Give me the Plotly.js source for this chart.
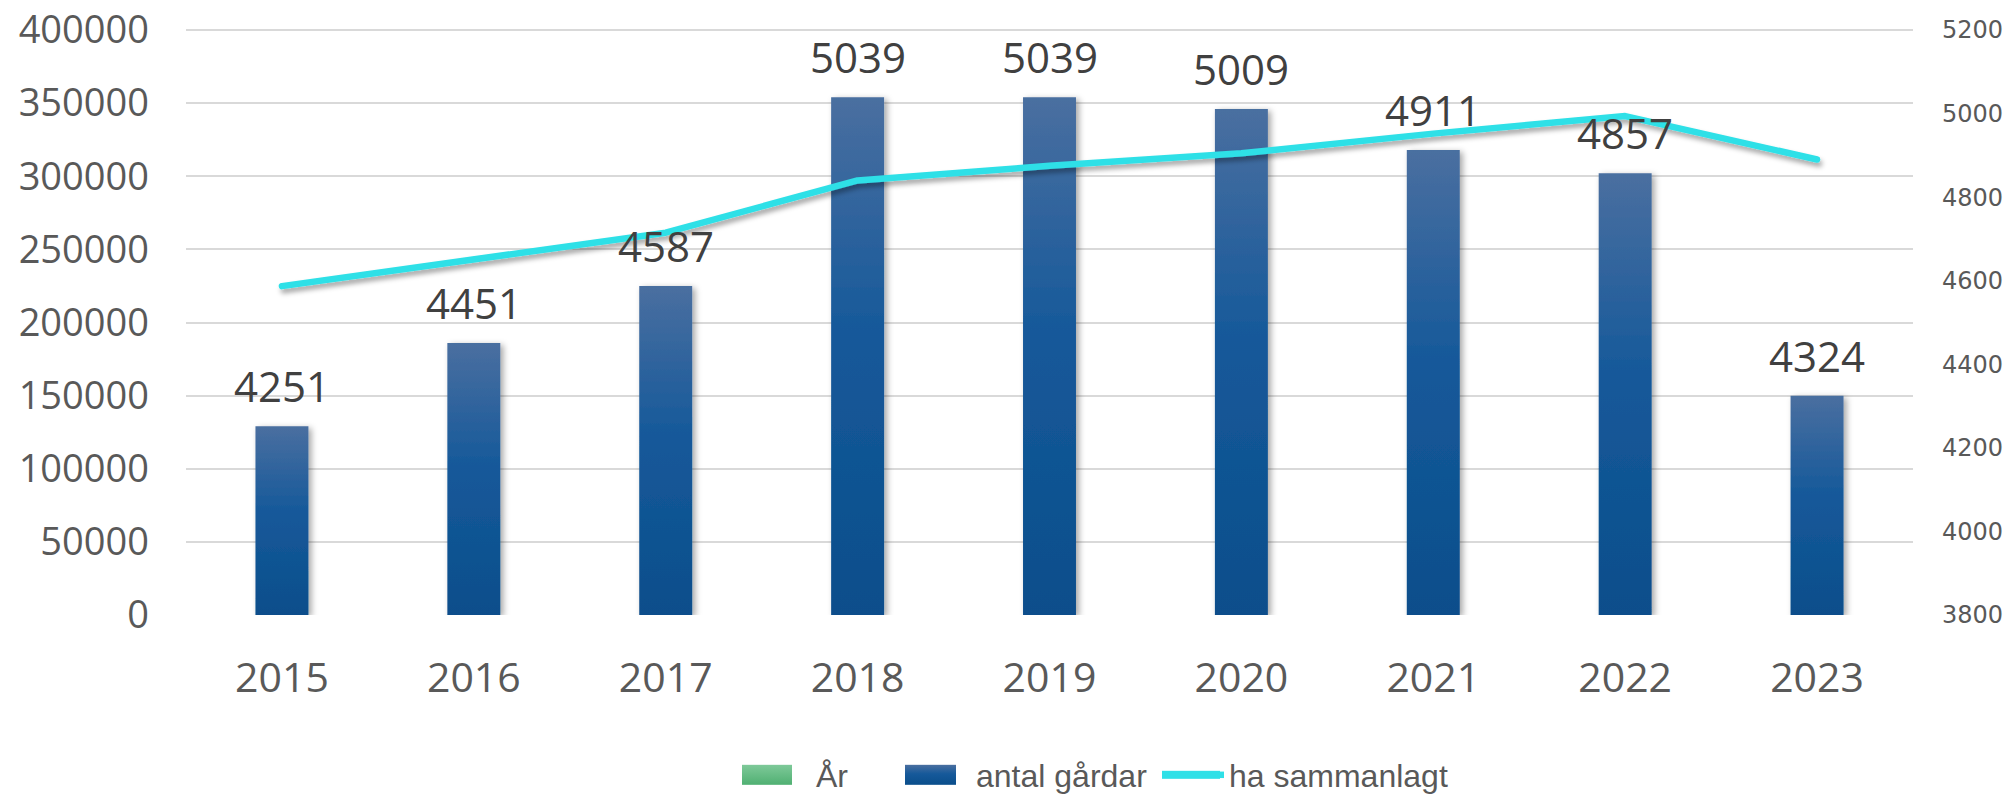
<!DOCTYPE html>
<html>
<head>
<meta charset="utf-8">
<script src="https://cdn.plot.ly/plotly-3.0.1.min.js"></script>
<style>
html,body{margin:0;padding:0;background:#fff;}
#chart{width:2013px;height:797px;}
</style>
</head>
<body>
<div id="chart"></div>
<script>
// ---- data ----
var years = [2015, 2016, 2017, 2018, 2019, 2020, 2021, 2022, 2023];
var yearLabels = ['2015','2016','2017','2018','2019','2020','2021','2022','2023'];
var antalGardar = [129000, 186000, 225000, 354000, 354000, 346000, 318000, 302000, 150000];
var haSammanlagt = [4587, 4650, 4715, 4840, 4875, 4905, 4952, 4994, 4890];
var barLabels = ['4251','4451','4587','5039','5039','5009','4911','4857','4324'];
var seriesNames = ['År', 'antal gårdar', 'ha sammanlagt'];
var leftTicks = [0, 50000, 100000, 150000, 200000, 250000, 300000, 350000, 400000];
var rightTicks = [3800, 4000, 4200, 4400, 4600, 4800, 5000, 5200];

var tickColor = '#595959';

var traceAr = {
  type: 'bar', name: seriesNames[0], x: years, y: years,
  xaxis: 'x', yaxis: 'y2', width: 0.276,
  marker: {color: '#66bd86'}, hoverinfo: 'skip'
};
var traceGardar = {
  type: 'bar', name: seriesNames[1], x: years, y: antalGardar,
  xaxis: 'x', yaxis: 'y', width: 0.276,
  marker: {color: '#16599a'}, hoverinfo: 'skip'
};
var traceHa = {
  type: 'scatter', mode: 'lines', name: seriesNames[2], x: years, y: haSammanlagt,
  xaxis: 'x', yaxis: 'y2',
  line: {color: '#2fe0e7', width: 6.5}, hoverinfo: 'skip'
};

var annotations = years.map(function(yr, i){
  return {
    x: yr, y: antalGardar[i], xref: 'x', yref: 'y',
    text: barLabels[i], showarrow: false, yanchor: 'bottom', xanchor: 'center',
    yshift: 10,
    font: {family: 'Open Sans', size: 42, color: '#404040'}
  };
});

// plot area: top 28, bottom 615 -> 400000 / 5200 sit 2px below the top edge
var plotTop = 28, plotBottom = 615;
var h = plotBottom - plotTop;
var yTop = 400000 * h / (h - 2);
var y2Top = 3800 + 1400 * h / (h - 2);

var layout = {
  width: 2013, height: 797,
  margin: {l: 186, r: 100, t: plotTop, b: 797 - plotBottom, autoexpand: false},
  paper_bgcolor: '#ffffff', plot_bgcolor: '#ffffff',
  showlegend: true,
  barmode: 'overlay',
  xaxis: {
    type: 'linear', range: [2014.5, 2023.5],
    tickvals: years, ticktext: yearLabels,
    showgrid: false, zeroline: false, showline: false,
    ticks: '', ticklabelstandoff: 35,
    tickfont: {family: 'Open Sans', size: 41, color: tickColor}
  },
  yaxis: {
    range: [0, yTop], tickvals: leftTicks, ticktext: leftTicks.map(String),
    showgrid: true, gridcolor: '#d9d9d9', gridwidth: 2,
    zeroline: false, showline: false, ticks: '',
    ticklabelstandoff: 36,
    tickfont: {family: 'Open Sans', size: 38, color: tickColor}
  },
  yaxis2: {
    overlaying: 'y', side: 'right',
    range: [3800, y2Top], tickvals: rightTicks, ticktext: rightTicks.map(String),
    showgrid: false, zeroline: false, showline: false, ticks: '',
    ticklabelstandoff: 28,
    tickfont: {family: 'DejaVu Sans', size: 24, color: tickColor}
  },
  legend: {
    orientation: 'h', x: 0.3, xanchor: 'left', y: -0.2726, yanchor: 'middle',
    font: {family: 'Liberation Sans', size: 32, color: tickColor},
    bgcolor: 'rgba(0,0,0,0)', traceorder: 'normal'
  },
  annotations: annotations
};

function decorate(gd){
  var NS = 'http://www.w3.org/2000/svg';
  var svg = gd.querySelector('svg.main-svg');
  var defs = document.createElementNS(NS, 'defs');
  defs.innerHTML =
    '<linearGradient id="gBlue" x1="0" y1="0" x2="0" y2="1">' +
      '<stop offset="0" stop-color="#4a6fa0"/><stop offset="0.45" stop-color="#16599a"/><stop offset="1" stop-color="#0a4e8b"/>' +
    '</linearGradient>' +
    '<linearGradient id="gGreen" x1="0" y1="0" x2="0" y2="1">' +
      '<stop offset="0" stop-color="#7ec999"/><stop offset="1" stop-color="#50b072"/>' +
    '</linearGradient>' +
    '<filter id="shBar" x="-30%" y="-10%" width="170%" height="130%">' +
      '<feDropShadow dx="3" dy="2" stdDeviation="3" flood-color="#000" flood-opacity="0.35"/>' +
    '</filter>' +
    '<filter id="shLine" x="-10%" y="-50%" width="120%" height="200%">' +
      '<feDropShadow dx="2" dy="4" stdDeviation="2.5" flood-color="#000" flood-opacity="0.35"/>' +
    '</filter>';
  svg.insertBefore(defs, svg.firstChild);

  gd.querySelectorAll('.barlayer g.trace').forEach(function(g){
    var cd = g.__data__; var tr = cd && cd[0] && cd[0].trace;
    if(!tr) return;
    if(tr.name === seriesNames[1]){
      g.querySelectorAll('path').forEach(function(p){
        p.style.fill = 'url(#gBlue)';
        p.setAttribute('filter', 'url(#shBar)');
      });
    }
  });
  gd.querySelectorAll('.scatterlayer path.js-line').forEach(function(p){
    p.style.strokeLinecap = 'round';
    p.style.strokeLinejoin = 'round';
    p.setAttribute('filter', 'url(#shLine)');
  });

  var scroll = gd.querySelector('.legend .scrollbox');
  if(scroll) scroll.removeAttribute('clip-path');
  var desiredText = [816, 976, 1229];
  var swatch = [
    {x0: 742, x1: 792, h: 20, fill: 'url(#gGreen)'},
    {x0: 905, x1: 956, h: 20, fill: 'url(#gBlue)'},
    {x0: 1162, x1: 1220, h: 8, fill: '#2fe0e7'}
  ];
  var items = gd.querySelectorAll('.legend g.traces');
  items.forEach(function(it, i){
    var txt = it.querySelector('text.legendtext');
    if(!txt || i > 2) return;
    var r = txt.getBoundingClientRect();
    var dx = desiredText[i] - r.left;
    var tf = it.getAttribute('transform') || '';
    var m = /translate\(([-\d.e]+)[ ,]*([-\d.e]*)\)/.exec(tf);
    var tx = m ? parseFloat(m[1]) : 0, ty = m && m[2] ? parseFloat(m[2]) : 0;
    it.setAttribute('transform', 'translate(' + (tx + dx) + ',' + ty + ')');
    var lp = it.querySelector('.legendpoints');
    while(lp && lp.firstChild) lp.removeChild(lp.firstChild);
    var r2 = txt.getBoundingClientRect();
    var bb = txt.getBBox();
    var off = r2.left - bb.x;
    lp.removeAttribute('transform');
    var s = swatch[i];
    var el = document.createElementNS(NS, 'rect');
    el.setAttribute('x', s.x0 - off); el.setAttribute('y', -s.h / 2);
    el.setAttribute('width', s.x1 - s.x0); el.setAttribute('height', s.h);
    el.style.fill = s.fill;
    lp.appendChild(el);
  });
}

Plotly.newPlot('chart', [traceAr, traceGardar, traceHa], layout, {staticPlot: true, displayModeBar: false})
  .then(function(gd){ decorate(gd); });
</script>
</body>
</html>
